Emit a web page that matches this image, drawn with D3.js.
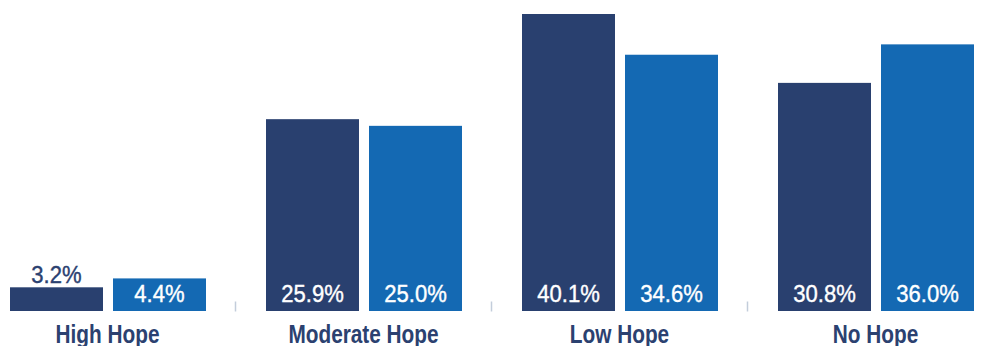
<!DOCTYPE html>
<html>
<head>
<meta charset="utf-8">
<script src="https://cdn.jsdelivr.net/npm/d3@7"></script>
<style>
  html, body { margin: 0; padding: 0; background: #fff; }
  svg { display: block; }
  text { font-family: "Liberation Sans", Arial, Helvetica, sans-serif; }
</style>
</head>
<body>
<svg id="chart" width="992" height="346"></svg>
<script>
// Hope levels, two survey series
const categories = ["High Hope", "Moderate Hope", "Low Hope", "No Hope"];
const seriesNames = ["Series A", "Series B"];
const seriesA = [3.2, 25.9, 40.1, 30.8];
const seriesB = [4.4, 25.0, 34.6, 36.0];
const valueLabels = [
  ["3.2%", "25.9%", "40.1%", "30.8%"],
  ["4.4%", "25.0%", "34.6%", "36.0%"]
];

const colors = ["#29406f", "#1469b3"];
const textDark = "#2b4170";

const svg = d3.select("#chart");
const baseline = 311;

const x0 = d3.scaleBand().domain(categories).range([-20.5, 1003.5]).paddingInner(0).paddingOuter(0);
const x1 = d3.scaleBand().domain(seriesNames).range([30.5, 226.5]).paddingInner(10 / 103).paddingOuter(0);
const y = d3.scaleLinear().domain([0, 40.1]).range([baseline, 14]);

const rows = categories.map((c, i) => ({
  category: c,
  values: [seriesA[i], seriesB[i]].map((v, s) => ({ series: seriesNames[s], s, value: v, label: valueLabels[s][i] }))
}));

// condensed look: squeeze text horizontally
const valueScaleX = 0.92;
const catScaleX = 0.8;

// group boundary ticks
const bounds = categories.slice(1).map(c => x0(c));
svg.append("g").selectAll("line").data(bounds).join("line")
  .attr("x1", d => d).attr("x2", d => d)
  .attr("y1", baseline - 9.5).attr("y2", baseline + 0.5)
  .attr("stroke", "#c3cddb").attr("stroke-width", 1.5);

const groups = svg.append("g").selectAll("g").data(rows).join("g")
  .attr("transform", d => `translate(${x0(d.category)},0)`);

groups.selectAll("rect").data(d => d.values).join("rect")
  .attr("x", d => x1(d.series))
  .attr("width", x1.bandwidth())
  .attr("y", d => y(d.value))
  .attr("height", d => baseline - y(d.value))
  .attr("fill", d => colors[d.s]);

const isShort = d => (baseline - y(d.value)) < 30;

groups.selectAll("text.val").data(d => d.values).join("text")
  .attr("class", "val")
  .attr("transform", d => {
    const tx = x1(d.series) + x1.bandwidth() / 2;
    const ty = isShort(d) ? y(d.value) - 4.5 : baseline - 9.5;
    return `translate(${tx},${ty}) scale(${valueScaleX},1)`;
  })
  .attr("text-anchor", "middle")
  .attr("font-size", 24)
  .attr("fill", d => isShort(d) ? textDark : "#ffffff")
  .attr("stroke", d => isShort(d) ? textDark : "#ffffff")
  .attr("stroke-width", 0.4)
  .text(d => d.label);

// category axis labels
svg.append("g").selectAll("text").data(categories).join("text")
  .attr("transform", d => `translate(${x0(d) + x0.bandwidth() / 2},343) scale(${catScaleX},1)`)
  .attr("text-anchor", "middle")
  .attr("font-size", 26)
  .attr("font-weight", "bold")
  .attr("fill", textDark)
  .text(d => d);
</script>
</body>
</html>
